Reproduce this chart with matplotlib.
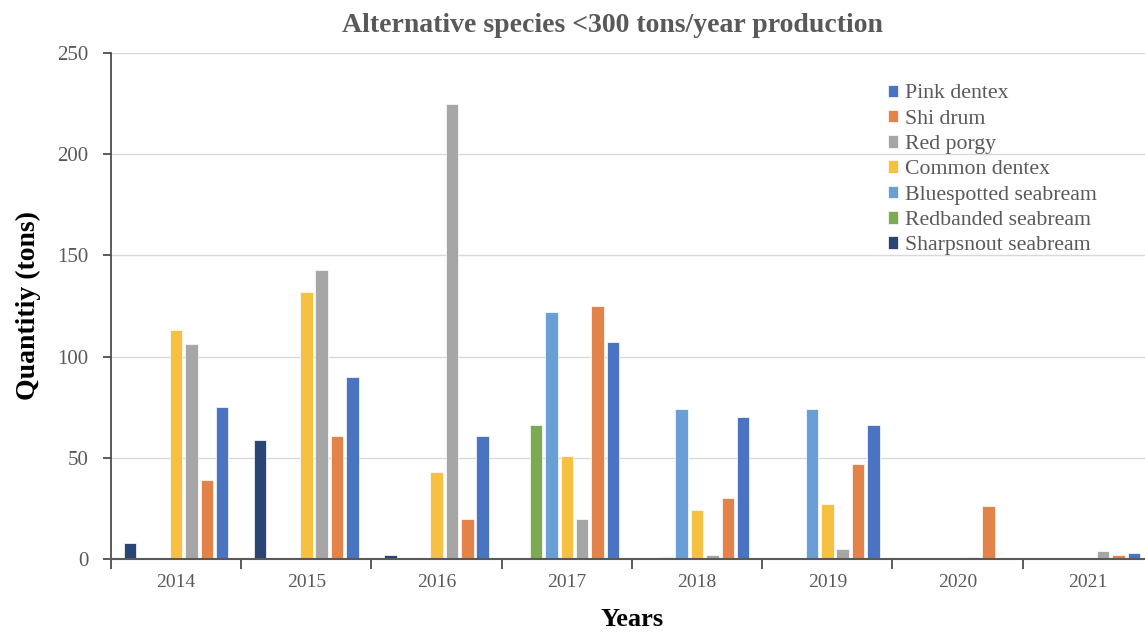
import numpy as np
import matplotlib.pyplot as plt

plt.rcParams['font.family'] = ['Liberation Serif', 'DejaVu Serif']

years = ["2014", "2015", "2016", "2017", "2018", "2019", "2020", "2021"]

# bar order inside each year group (left to right)
species = ["Sharpsnout seabream", "Redbanded seabream", "Bluespotted seabream",
           "Common dentex", "Red porgy", "Shi drum", "Pink dentex"]
colors = ["#2A4474", "#7AAA52", "#6A9ED6", "#F6C143", "#A6A6A6", "#E2844A", "#4A73C2"]

sharpsnout = [8, 59, 2, 0, 0, 0, 0, 0]
redbanded = [0, 0, 0, 66, 1, 0, 0, 0]
bluespotted = [0, 0, 0, 122, 74, 74, 0, 0]
common_dentex = [113, 132, 43, 51, 24, 27, 0, 0]
red_porgy = [106, 143, 225, 20, 2, 5, 1, 4]
shi_drum = [39, 61, 20, 125, 30, 47, 26, 2]
pink_dentex = [75, 90, 61, 107, 70, 66, 0, 3]

series = [sharpsnout, redbanded, bluespotted, common_dentex, red_porgy, shi_drum, pink_dentex]

fig = plt.figure(figsize=(11.45, 6.33), dpi=100)
ax = fig.add_axes([0.0969, 0.1169, 0.910, 0.7994])

x = np.arange(len(years))
step = 0.118
width = 0.096
handles = []
for i, (name, vals, c) in enumerate(zip(species, series, colors)):
    pos = x + 0.5 + (i - 3) * step
    b = ax.bar(pos, vals, width=width, color=c, edgecolor="white", linewidth=0.5,
               label=name, zorder=3)
    handles.append(b)

ax.set_xlim(0, len(years))
ax.set_ylim(0, 250)
ax.set_yticks(np.arange(0, 251, 50))
ax.yaxis.grid(True, color="#D9D9D9", linewidth=1, zorder=0)

# year labels centred in groups, tick marks at group boundaries
ax.set_xticks(np.arange(0, len(years) + 1))
ax.set_xticklabels([])
ax.set_xticks(x + 0.5, minor=True)
ax.set_xticklabels(years, minor=True)
ax.tick_params(axis="x", which="major", length=7, width=1.2, color="#404040", direction="out")
ax.tick_params(axis="x", which="minor", length=0, pad=11, labelsize=14, labelcolor="#595959")
ax.tick_params(axis="y", length=6, width=1.2, color="#404040", pad=10,
               labelsize=15, labelcolor="#595959")

for s in ["top", "right"]:
    ax.spines[s].set_visible(False)
ax.spines["left"].set_color("#404040")
ax.spines["left"].set_linewidth(1.2)
ax.spines["bottom"].set_color("#595959")
ax.spines["bottom"].set_linewidth(1.5)
ax.spines["left"].set_zorder(4)
ax.spines["bottom"].set_zorder(4)

ax.set_ylabel("Quantitiy (tons)", fontsize=20, fontweight="bold", labelpad=12)
ax.set_xlabel("Years", fontsize=19, fontweight="bold", labelpad=12)
fig.suptitle("Alternative species <300 tons/year production", fontsize=20,
             fontweight="bold", color="#595959", y=0.98, x=0.535)

leg = ax.legend(handles[::-1], species[::-1], loc="upper left",
                bbox_to_anchor=(0.737, 0.955), frameon=False, fontsize=15.7,
                handlelength=0.5, handleheight=0.5, handletextpad=0.3,
                labelspacing=0.29, borderaxespad=0)
for t in leg.get_texts():
    t.set_color("#595959")

fig.savefig("out.png", dpi=100)
